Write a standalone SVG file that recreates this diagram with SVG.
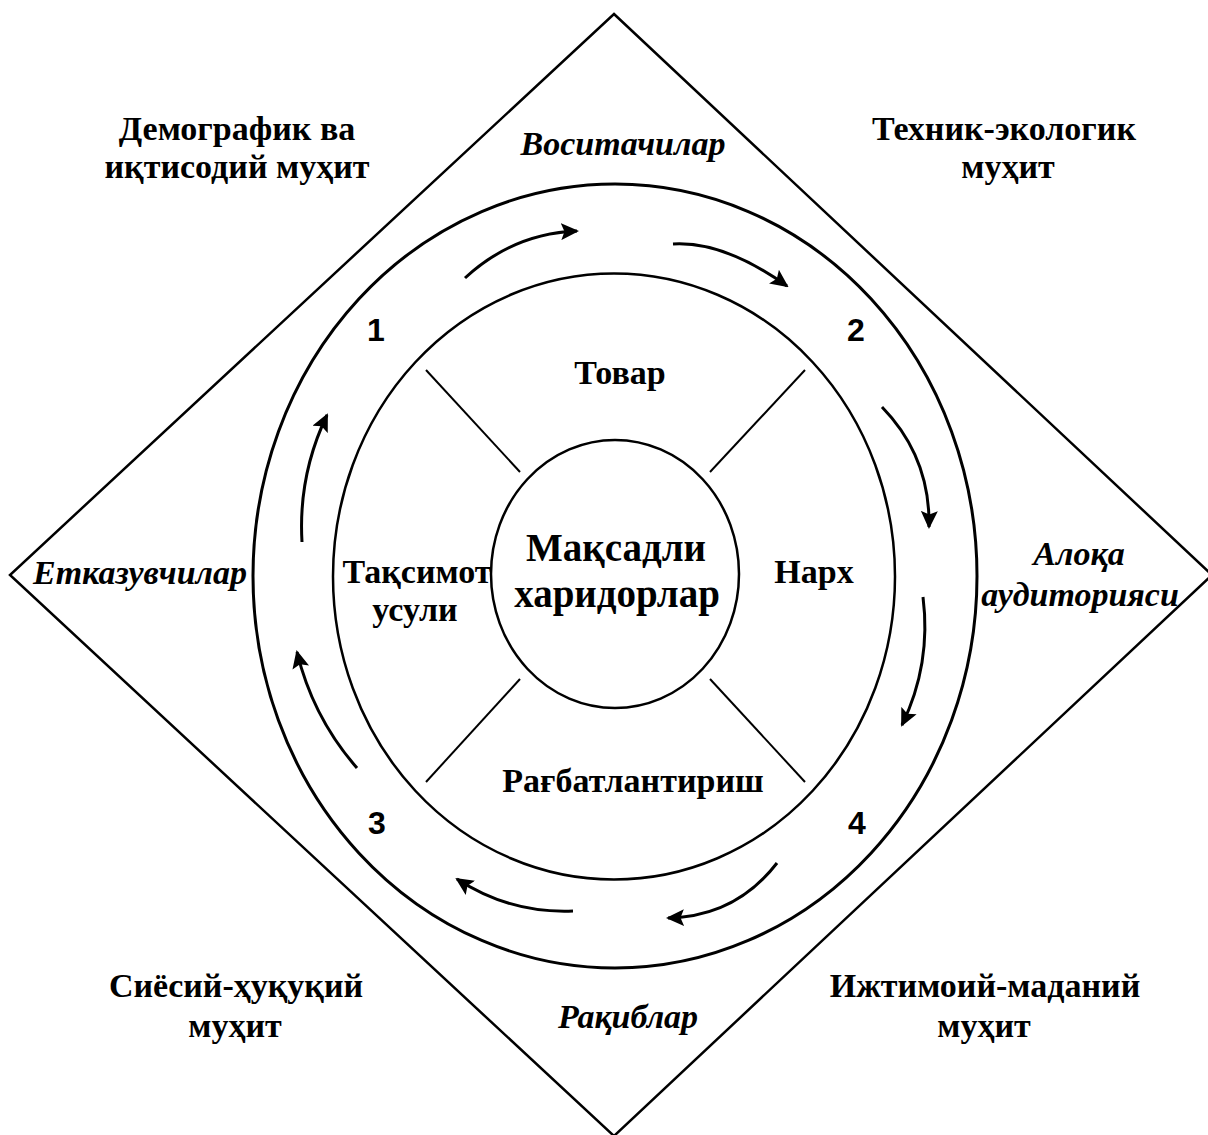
<svg xmlns="http://www.w3.org/2000/svg" width="1208" height="1135" viewBox="0 0 1208 1135">
  <style>
    .frame { fill: none; stroke: #000; stroke-width: 2.5; stroke-linejoin: miter; }
    .ring-outer { fill: none; stroke: #000; stroke-width: 3; }
    .ring-inner { fill: none; stroke: #000; stroke-width: 2.5; }
    .core { fill: none; stroke: #000; stroke-width: 2.5; }
    .spoke { stroke: #000; stroke-width: 2; }
    .flow { fill: none; stroke: #000; stroke-width: 3; marker-end: url(#head); }
    .lbl { font-family: "Liberation Serif", "Times New Roman", serif; font-weight: bold; font-size: 34px; fill: #000; text-anchor: middle; }
    .it { font-style: italic; }
    .big { font-size: 39px; }
    .num { font-family: "Liberation Sans", Arial, sans-serif; font-weight: bold; font-size: 32px; fill: #000; text-anchor: middle; }
  </style>
  <defs>
    <marker id="head" viewBox="0 0 18 17" markerWidth="18" markerHeight="17" refX="16" refY="8.5" orient="auto" markerUnits="userSpaceOnUse">
      <path d="M0,0 L18,8.5 L0,17 L3.5,8.5 z" fill="#000"/>
    </marker>
  </defs>

  <!-- environment frame -->
  <g id="frame">
    <polygon class="frame" points="614,14 1212,575 614,1136 10,575"/>
  </g>

  <!-- rings -->
  <g id="ring-outer">
    <ellipse class="ring-outer" cx="615" cy="576" rx="362" ry="392"/>
  </g>
  <g id="ring-inner">
    <ellipse class="ring-inner" cx="614" cy="576.5" rx="281" ry="303"/>
  </g>
  <g id="core">
    <ellipse class="core" cx="615" cy="574" rx="124" ry="134"/>
    <text class="lbl big" x="616" y="561">Мақсадли</text>
    <text class="lbl big" x="617" y="607">харидорлар</text>
  </g>

  <!-- dividers between the marketing-mix sectors -->
  <g id="spokes">
    <line class="spoke" x1="426" y1="370" x2="520" y2="472"/>
    <line class="spoke" x1="805" y1="370" x2="710" y2="472"/>
    <line class="spoke" x1="520" y1="679" x2="426" y2="782"/>
    <line class="spoke" x1="710" y1="679" x2="805" y2="782"/>
  </g>

  <!-- marketing-mix sectors -->
  <g id="mix-product"><text class="lbl" x="620" y="384">Товар</text></g>
  <g id="mix-price"><text class="lbl" x="814" y="583">Нарх</text></g>
  <g id="mix-place">
    <text class="lbl" x="417" y="583">Тақсимот</text>
    <text class="lbl" x="415" y="621">усули</text>
  </g>
  <g id="mix-promotion"><text class="lbl" x="633" y="792">Рағбатлантириш</text></g>

  <!-- stage numbers -->
  <g id="stage-1"><text class="num" x="376" y="341">1</text></g>
  <g id="stage-2"><text class="num" x="856" y="341">2</text></g>
  <g id="stage-3"><text class="num" x="377" y="834">3</text></g>
  <g id="stage-4"><text class="num" x="857" y="834">4</text></g>

  <!-- micro-environment actors -->
  <g id="actor-intermediaries"><text class="lbl it" x="623" y="155">Воситачилар</text></g>
  <g id="actor-suppliers"><text class="lbl it" x="140" y="584">Етказувчилар</text></g>
  <g id="actor-audiences">
    <text class="lbl it" x="1079" y="565">Алоқа</text>
    <text class="lbl it" x="1080" y="606">аудиторияси</text>
  </g>
  <g id="actor-competitors"><text class="lbl it" x="628" y="1028">Рақиблар</text></g>

  <!-- macro-environment -->
  <g id="env-demographic">
    <text class="lbl" x="237" y="140">Демографик ва</text>
    <text class="lbl" x="237" y="178">иқтисодий муҳит</text>
  </g>
  <g id="env-technical">
    <text class="lbl" x="1004" y="140">Техник-экологик</text>
    <text class="lbl" x="1008" y="178">муҳит</text>
  </g>
  <g id="env-political">
    <text class="lbl" x="236" y="997">Сиёсий-ҳуқуқий</text>
    <text class="lbl" x="235" y="1037">муҳит</text>
  </g>
  <g id="env-social">
    <text class="lbl" x="985" y="997">Ижтимоий-маданий</text>
    <text class="lbl" x="984" y="1037">муҳит</text>
  </g>

  <!-- clockwise flow arrows -->
  <g id="connectors">
    <path class="flow" d="M465,278 Q513,233.5 577,231"/>
    <path class="flow" d="M673,244 Q724,241 787,286"/>
    <path class="flow" d="M882,407 Q930.5,457 929,527"/>
    <path class="flow" d="M923,597 Q931.5,664 902,725"/>
    <path class="flow" d="M777,863 Q735.6,916.7 668,918"/>
    <path class="flow" d="M573,911 Q509.8,913.6 457,879"/>
    <path class="flow" d="M357,768 Q312.8,717.4 297,652"/>
    <path class="flow" d="M302,542 Q298.1,475.3 327,415"/>
  </g>
</svg>
